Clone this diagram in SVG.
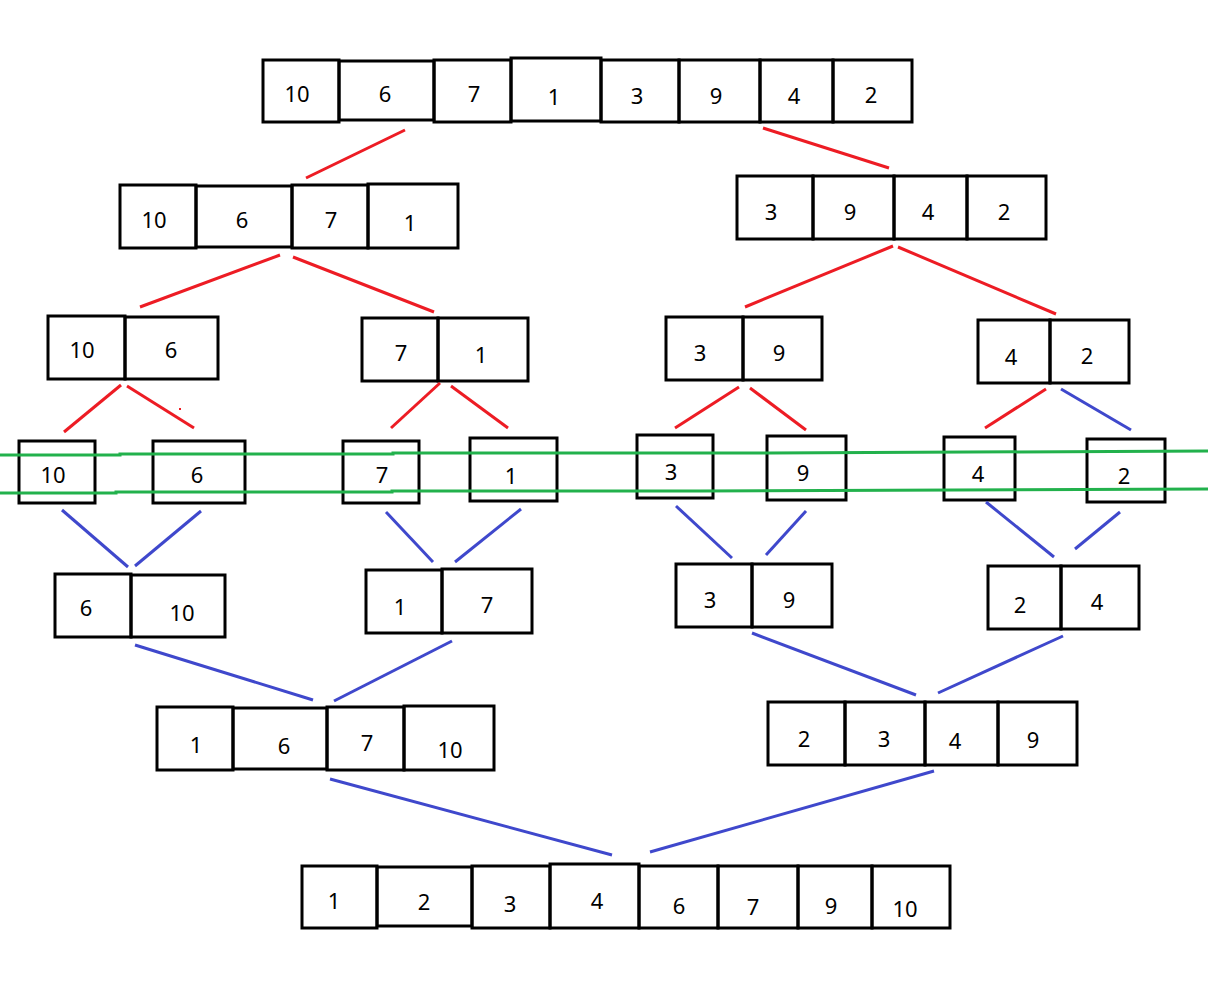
<svg xmlns="http://www.w3.org/2000/svg" width="1208" height="981" viewBox="0 0 1208 981">
<style>
.c{fill:none;stroke:#000;stroke-width:3}
.t{font-family:"Noto Sans","Open Sans",sans-serif;font-size:22px;fill:#000;text-anchor:middle;dominant-baseline:central}
.r{stroke:#ed1c24;stroke-width:3;fill:none}
.b{stroke:#3f48cc;stroke-width:3;fill:none}
.g{stroke:#22b14c;stroke-width:3;fill:none}
</style>
<rect width="1208" height="981" fill="#fff"/>
<g id="a0">
<rect class="c" x="263" y="60" width="76" height="62"/><text class="t" x="297" y="93">10</text>
<rect class="c" x="339" y="61" width="95" height="59"/><text class="t" x="385" y="93">6</text>
<rect class="c" x="434" y="60" width="77" height="62"/><text class="t" x="474" y="93">7</text>
<rect class="c" x="511" y="58" width="90" height="63"/><text class="t" x="554" y="96">1</text>
<rect class="c" x="601" y="60" width="78" height="62"/><text class="t" x="637" y="95">3</text>
<rect class="c" x="679" y="60" width="81" height="62"/><text class="t" x="716" y="95">9</text>
<rect class="c" x="760" y="60" width="73" height="62"/><text class="t" x="794" y="95">4</text>
<rect class="c" x="833" y="60" width="79" height="62"/><text class="t" x="871" y="94">2</text>
</g>
<g id="a1">
<rect class="c" x="120" y="185" width="76" height="63"/><text class="t" x="154" y="219">10</text>
<rect class="c" x="196" y="186" width="96" height="61"/><text class="t" x="242" y="219">6</text>
<rect class="c" x="292" y="185" width="76" height="63"/><text class="t" x="331" y="219">7</text>
<rect class="c" x="368" y="184" width="90" height="64"/><text class="t" x="410" y="222">1</text>
</g>
<g id="a2">
<rect class="c" x="737" y="176" width="76" height="63"/><text class="t" x="771" y="211">3</text>
<rect class="c" x="813" y="176" width="81" height="63"/><text class="t" x="850" y="211">9</text>
<rect class="c" x="894" y="176" width="73" height="63"/><text class="t" x="928" y="211">4</text>
<rect class="c" x="967" y="176" width="79" height="63"/><text class="t" x="1004" y="211">2</text>
</g>
<g id="a3">
<rect class="c" x="48" y="316" width="77" height="63"/><text class="t" x="82" y="349">10</text>
<rect class="c" x="125" y="317" width="93" height="62"/><text class="t" x="171" y="349">6</text>
</g>
<g id="a4">
<rect class="c" x="362" y="318" width="76" height="63"/><text class="t" x="401" y="352">7</text>
<rect class="c" x="438" y="318" width="90" height="63"/><text class="t" x="481" y="354">1</text>
</g>
<g id="a5">
<rect class="c" x="666" y="317" width="77" height="63"/><text class="t" x="700" y="352">3</text>
<rect class="c" x="743" y="317" width="79" height="63"/><text class="t" x="779" y="352">9</text>
</g>
<g id="a6">
<rect class="c" x="978" y="320" width="72" height="63"/><text class="t" x="1011" y="356">4</text>
<rect class="c" x="1050" y="320" width="79" height="63"/><text class="t" x="1087" y="355">2</text>
</g>
<g id="s10"><rect class="c" x="19" y="441" width="76" height="62"/><text class="t" x="53" y="474">10</text></g>
<g id="s6"><rect class="c" x="153" y="441" width="92" height="62"/><text class="t" x="197" y="474">6</text></g>
<g id="s7"><rect class="c" x="343" y="441" width="76" height="62"/><text class="t" x="382" y="474">7</text></g>
<g id="s1"><rect class="c" x="470" y="438" width="87" height="63"/><text class="t" x="511" y="475">1</text></g>
<g id="s3"><rect class="c" x="637" y="435" width="76" height="63"/><text class="t" x="671" y="471">3</text></g>
<g id="s9"><rect class="c" x="767" y="436" width="79" height="64"/><text class="t" x="803" y="472">9</text></g>
<g id="s4"><rect class="c" x="944" y="437" width="71" height="63"/><text class="t" x="978" y="473">4</text></g>
<g id="s2"><rect class="c" x="1087" y="439" width="78" height="63"/><text class="t" x="1124" y="475">2</text></g>
<g id="m1">
<rect class="c" x="55" y="574" width="76" height="63"/><text class="t" x="86" y="607">6</text>
<rect class="c" x="131" y="575" width="94" height="62"/><text class="t" x="182" y="612">10</text>
</g>
<g id="m2">
<rect class="c" x="366" y="570" width="76" height="63"/><text class="t" x="400" y="606">1</text>
<rect class="c" x="442" y="569" width="90" height="64"/><text class="t" x="487" y="604">7</text>
</g>
<g id="m3">
<rect class="c" x="676" y="564" width="76" height="63"/><text class="t" x="710" y="599">3</text>
<rect class="c" x="752" y="564" width="80" height="63"/><text class="t" x="789" y="599">9</text>
</g>
<g id="m4">
<rect class="c" x="988" y="566" width="73" height="63"/><text class="t" x="1020" y="604">2</text>
<rect class="c" x="1061" y="566" width="78" height="63"/><text class="t" x="1097" y="601">4</text>
</g>
<g id="m5">
<rect class="c" x="157" y="707" width="76" height="63"/><text class="t" x="196" y="744">1</text>
<rect class="c" x="233" y="708" width="94" height="61"/><text class="t" x="284" y="745">6</text>
<rect class="c" x="327" y="707" width="77" height="63"/><text class="t" x="367" y="742">7</text>
<rect class="c" x="404" y="706" width="90" height="64"/><text class="t" x="450" y="749">10</text>
</g>
<g id="m6">
<rect class="c" x="768" y="702" width="77" height="63"/><text class="t" x="804" y="738">2</text>
<rect class="c" x="845" y="702" width="80" height="63"/><text class="t" x="884" y="738">3</text>
<rect class="c" x="925" y="702" width="73" height="63"/><text class="t" x="955" y="740">4</text>
<rect class="c" x="998" y="702" width="79" height="63"/><text class="t" x="1033" y="739">9</text>
</g>
<g id="m7">
<rect class="c" x="302" y="866" width="75" height="62"/><text class="t" x="334" y="900">1</text>
<rect class="c" x="377" y="867" width="95" height="59"/><text class="t" x="424" y="901">2</text>
<rect class="c" x="472" y="866" width="78" height="62"/><text class="t" x="510" y="903">3</text>
<rect class="c" x="550" y="864" width="89" height="64"/><text class="t" x="597" y="900">4</text>
<rect class="c" x="639" y="866" width="79" height="62"/><text class="t" x="679" y="905">6</text>
<rect class="c" x="718" y="866" width="80" height="62"/><text class="t" x="753" y="906">7</text>
<rect class="c" x="798" y="866" width="74" height="62"/><text class="t" x="831" y="905">9</text>
<rect class="c" x="872" y="866" width="78" height="62"/><text class="t" x="905" y="908">10</text>
</g>
<g id="connectors">
<line class="r" x1="405" y1="130" x2="306" y2="178"/>
<line class="r" x1="763" y1="128" x2="889" y2="168"/>
<line class="r" x1="280" y1="255" x2="140" y2="307"/>
<line class="r" x1="293" y1="257" x2="434" y2="312"/>
<line class="r" x1="893" y1="246" x2="745" y2="307"/>
<line class="r" x1="898" y1="247" x2="1056" y2="314"/>
<line class="r" x1="121" y1="385" x2="64" y2="432"/>
<line class="r" x1="127" y1="386" x2="194" y2="428"/>
<rect x="179" y="408" width="2" height="2" fill="#ed1c24"/>
<line class="r" x1="440" y1="383" x2="391" y2="428"/>
<line class="r" x1="451" y1="386" x2="508" y2="428"/>
<line class="r" x1="739" y1="387" x2="675" y2="428"/>
<line class="r" x1="750" y1="388" x2="806" y2="430"/>
<line class="r" x1="1046" y1="389" x2="985" y2="428"/>
<line class="b" x1="1061" y1="389" x2="1131" y2="430"/>
<line class="b" x1="62" y1="510" x2="128" y2="567"/>
<line class="b" x1="135" y1="566" x2="201" y2="511"/>
<line class="b" x1="386" y1="512" x2="433" y2="562"/>
<line class="b" x1="455" y1="562" x2="521" y2="509"/>
<line class="b" x1="676" y1="506" x2="732" y2="558"/>
<line class="b" x1="766" y1="555" x2="806" y2="511"/>
<line class="b" x1="986" y1="502" x2="1054" y2="557"/>
<line class="b" x1="1075" y1="549" x2="1120" y2="512"/>
<line class="b" x1="135" y1="645" x2="313" y2="700"/>
<line class="b" x1="452" y1="641" x2="334" y2="701"/>
<line class="b" x1="752" y1="633" x2="916" y2="695"/>
<line class="b" x1="1063" y1="636" x2="938" y2="693"/>
<line class="b" x1="330" y1="779" x2="612" y2="855"/>
<line class="b" x1="934" y1="771" x2="650" y2="852"/>
<polyline class="g" points="0,455 120,455 120,454 393,454 393,453 770,453 1208,451"/>
<polyline class="g" points="0,493 116,493 116,492 392,492 392,491 700,491 1208,489"/>
</g>
</svg>
